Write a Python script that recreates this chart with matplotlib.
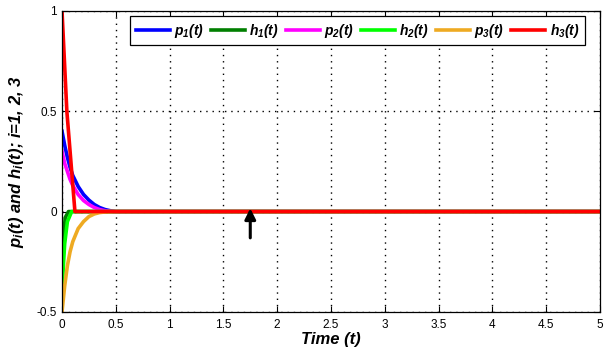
import matplotlib
matplotlib.use("Agg")
import matplotlib.pyplot as plt
from matplotlib.ticker import FormatStrFormatter

plt.rcParams['font.family'] = ['Liberation Sans', 'DejaVu Sans']
plt.rcParams['mathtext.fontset'] = 'custom'
plt.rcParams['mathtext.it'] = 'Liberation Sans:bold:italic'
plt.rcParams['mathtext.rm'] = 'Liberation Sans:bold:italic'
plt.rcParams['mathtext.bf'] = 'Liberation Sans:bold:italic'

# time samples (all curves sit at 0 after ~0.5)
t = [0, 0.025, 0.05, 0.075, 0.1, 0.15, 0.2, 0.25, 0.3, 0.35, 0.4, 0.45, 0.5, 5]
p1 = [0.40, 0.33, 0.27, 0.22, 0.18, 0.125, 0.085, 0.057, 0.035, 0.02, 0.01, 0.004, 0, 0]
p2 = [0.30, 0.24, 0.20, 0.16, 0.13, 0.085, 0.055, 0.035, 0.02, 0.01, 0.004, 0.001, 0, 0]
p3 = [-0.50, -0.37, -0.27, -0.20, -0.15, -0.085, -0.05, -0.025, -0.012, -0.005, -0.002, 0, 0, 0]
t_h1 = [0, 0.015, 0.03, 0.06, 5]
h1 = [-0.38, -0.12, -0.03, 0, 0]
t_h2 = [0, 0.025, 0.05, 0.09, 5]
h2 = [-0.38, -0.16, -0.05, 0, 0]
t_h3 = [0, 0.045, 0.075, 0.12, 5]
h3 = [1.0, 0.5, 0.3, 0, 0]

arrow_x = 1.75
arrow_from = -0.145
arrow_to = 0.03

fig = plt.figure(figsize=(6.14, 3.52), dpi=100)
ax = fig.add_axes([0.101, 0.114, 0.876, 0.855])

lw = 2.6
ax.plot(t, p1, color='#0000ff', lw=lw, label=r'$p_1(t)$')
ax.plot(t_h1, h1, color='#007f00', lw=lw, label=r'$h_1(t)$')
ax.plot(t, p2, color='#ff00ff', lw=lw, label=r'$p_2(t)$')
ax.plot(t_h2, h2, color='#00ff00', lw=lw, label=r'$h_2(t)$')
ax.plot(t, p3, color='#eeaa22', lw=lw, label=r'$p_3(t)$')
ax.plot(t_h3, h3, color='#ff0000', lw=lw, label=r'$h_3(t)$')

ax.annotate('', xy=(arrow_x, arrow_to), xytext=(arrow_x, arrow_from),
            arrowprops=dict(arrowstyle='-|>', color='k', lw=2.2, mutation_scale=16))

ax.set_xlim(0, 5)
ax.set_ylim(-0.5, 1)
ax.set_xticks([0, 0.5, 1, 1.5, 2, 2.5, 3, 3.5, 4, 4.5, 5])
ax.set_yticks([-0.5, 0, 0.5, 1])
ax.xaxis.set_major_formatter(FormatStrFormatter('%g'))
ax.yaxis.set_major_formatter(FormatStrFormatter('%g'))
ax.tick_params(direction='in', top=True, right=True, labelsize=8.5, length=4, width=0.8)
ax.tick_params(axis='x', pad=5)
ax.grid(True, color='k', linestyle=(0, (1, 3.5)), linewidth=1.0)
for s in ax.spines.values():
    s.set_linewidth(0.9)

ax.set_xlabel('Time (t)', fontsize=12, fontweight='bold', style='italic', labelpad=1)
ax.set_ylabel(r'$p_i(t)$ and $h_i(t)$; i=1, 2, 3', fontsize=12, fontweight='bold',
              style='italic', labelpad=8)

leg = ax.legend(ncol=6, loc='upper right', bbox_to_anchor=(0.972, 0.983), borderaxespad=0,
                fancybox=False, framealpha=1, edgecolor='k', fontsize=10,
                handlelength=2.45, handletextpad=0.3, columnspacing=0.5,
                borderpad=0.4)
leg.get_frame().set_linewidth(0.9)

fig.savefig('out.png', dpi=100)
